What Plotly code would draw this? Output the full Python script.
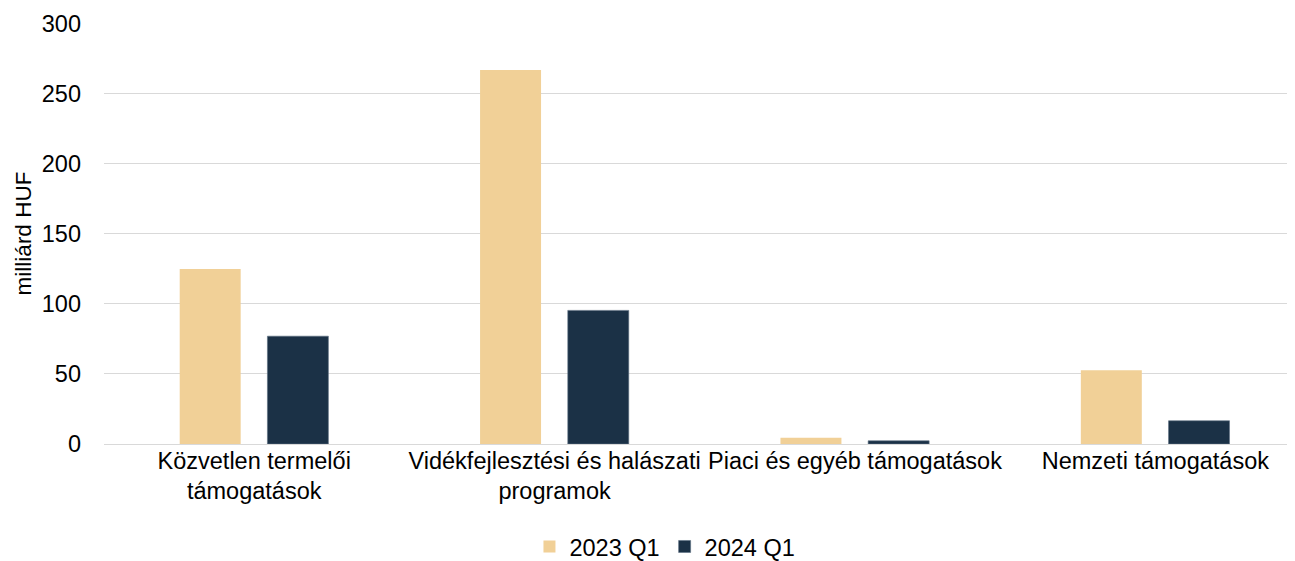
import plotly.graph_objects as go

# Kategóriák és értékek (milliárd HUF)
kategoriak = ["Közvetlen termelői<br>támogatások",
              "Vidékfejlesztési és halászati<br>programok",
              "Piaci és egyéb támogatások",
              "Nemzeti támogatások"]
ertek_2023 = [125, 267, 4.5, 52.7]
ertek_2024 = [77, 95.4, 2.3, 16.6]

fig = go.Figure()

# 2023 Q1 oszlopok
fig.add_trace(go.Bar(x=kategoriak, y=ertek_2023, name="2023 Q1",
                     marker=dict(color="#F1D097", line=dict(width=0)),
                     width=0.203, offset=-0.248))

# 2024 Q1 oszlopok
fig.add_trace(go.Bar(x=kategoriak, y=ertek_2024, name="2024 Q1",
                     marker=dict(color="#1B3146", line=dict(color="#5E7083", width=0.6)),
                     width=0.203, offset=0.044))

# az oldal 8 px-es body margóját a méretekben ellensúlyozzuk
fig.update_layout(
    width=1287, height=553,
    barmode="overlay",
    plot_bgcolor="white", paper_bgcolor="white",
    font=dict(family="Liberation Sans, Arial, sans-serif", size=23.5, color="#000000"),
    margin=dict(l=96, r=0, t=15, b=117, autoexpand=False),
    legend=dict(orientation="h", x=0.471, xanchor="center", y=-0.244, yanchor="middle",
                font=dict(size=23.5), itemwidth=30, traceorder="normal"),
    showlegend=True,
)

fig.update_xaxes(range=[-0.5, 3.465], showgrid=False, showline=False, automargin=False,
                 tickfont=dict(size=23.5), ticks="", zeroline=False)

fig.update_yaxes(range=[0, 300.6], tickvals=[0, 50, 100, 150, 200, 250, 300],
                 showgrid=True, gridcolor="#D9D9D9", gridwidth=1.3, automargin=False,
                 zeroline=True, zerolinecolor="#D9D9D9", zerolinewidth=1.3,
                 tickfont=dict(size=23.5), ticklabelstandoff=22,
                 title=dict(text="milliárd HUF", font=dict(size=22.5), standoff=3))

fig.write_html("out.html")
